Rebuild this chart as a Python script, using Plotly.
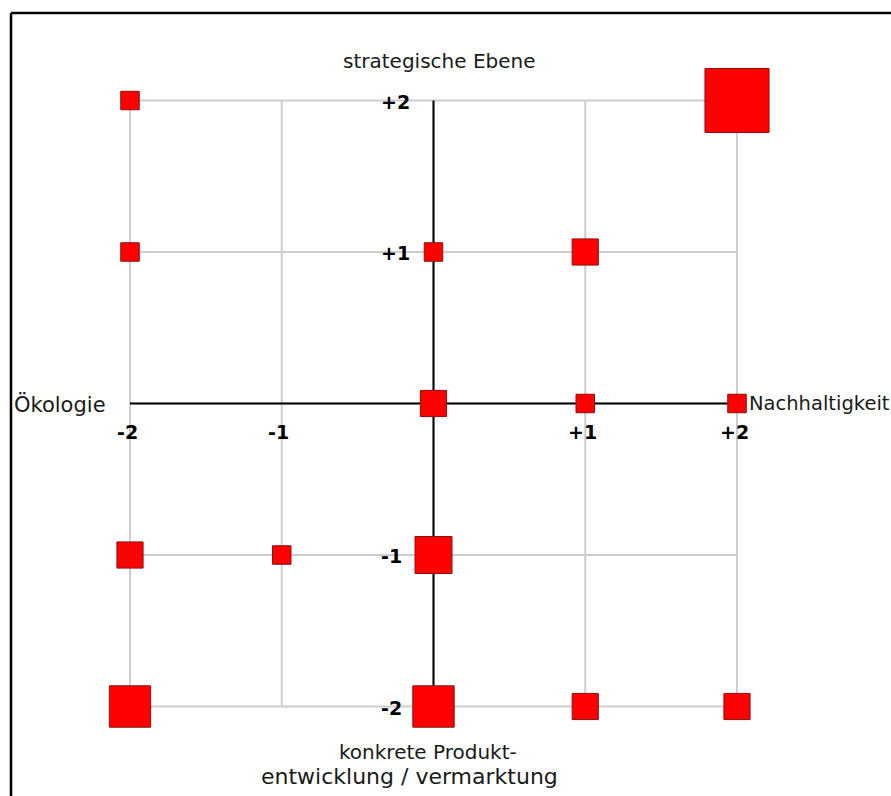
import math
import plotly.graph_objects as go

# ---- data ----
grid_vals = [-2, -1, 0, 1, 2]
x_tick_labels = ["-2", "-1", "", "+1", "+2"]
y_tick_labels = ["-2", "-1", "", "+1", "+2"]

pos_x = [-2, 2, -2, 0, 1, 0, 1, 2, -2, -1, 0, -2, 0, 1, 2]
pos_y = [2, 2, 1, 1, 1, 0, 0, 0, -1, -1, -1, -2, -2, -2, -2]
counts = [1, 12, 1, 1, 2, 2, 1, 1, 2, 1, 4, 5, 5, 2, 2]

title_top = "strategische Ebene"
title_left = "Ökologie"
title_right = "Nachhaltigkeit"
title_bottom_1 = "konkrete Produkt-"
title_bottom_2 = "entwicklung / vermarktung"

# ---- layout geometry (body margin removed via post_script) ----
W, H = 891, 796
PX_PER_UNIT_X = 151.75
PX_PER_UNIT_Y = 151.5
X0_PX = 433.5   # pixel of x=0
Y0_PX = 403.5   # pixel of y=0

x_range = [-X0_PX / PX_PER_UNIT_X, (W - X0_PX) / PX_PER_UNIT_X]
y_range = [-(H - Y0_PX) / PX_PER_UNIT_Y, Y0_PX / PX_PER_UNIT_Y]

def px(xp):
    return xp / W

def py(yp):
    return 1 - yp / H

FONT = "DejaVu Sans"
BASE = 18.5

fig = go.Figure()

shapes = []
lo, hi = min(grid_vals), max(grid_vals)
for v in grid_vals:
    shapes.append(dict(type="line", xref="x", yref="y", x0=v, x1=v, y0=lo, y1=hi,
                       line=dict(color="#cdcdcd", width=2), layer="below"))
    shapes.append(dict(type="line", xref="x", yref="y", x0=lo, x1=hi, y0=v, y1=v,
                       line=dict(color="#cdcdcd", width=2), layer="below"))
shapes.append(dict(type="line", xref="x", yref="y", x0=lo, x1=hi, y0=0, y1=0,
                   line=dict(color="black", width=2), layer="below"))
shapes.append(dict(type="line", xref="x", yref="y", x0=0, x1=0, y0=lo, y1=hi,
                   line=dict(color="black", width=2), layer="below"))
# frame (left and top edges)
shapes.append(dict(type="line", xref="paper", yref="paper", x0=px(11), x1=px(11),
                   y0=py(13), y1=py(H + 20), line=dict(color="black", width=2.5)))
shapes.append(dict(type="line", xref="paper", yref="paper", x0=px(11), x1=px(W + 20),
                   y0=py(13), y1=py(13), line=dict(color="black", width=2.5)))

fig.add_trace(go.Scatter(
    x=pos_x, y=pos_y, mode="markers",
    marker=dict(symbol="square", size=[BASE * math.sqrt(c) for c in counts],
                color="#ff0000", opacity=1, line=dict(color="#8b1010", width=1),
                sizemode="diameter"),
    hoverinfo="skip", showlegend=False,
))

annotations = []
for v, lab in zip(grid_vals, x_tick_labels):
    if lab:
        annotations.append(dict(x=v, y=0, xref="x", yref="y", text=f"<b>{lab}</b>",
                                showarrow=False, xanchor="center", yanchor="middle",
                                xshift=-3, yshift=-28,
                                font=dict(family=FONT, size=19, color="black")))
for v, lab in zip(grid_vals, y_tick_labels):
    if lab:
        annotations.append(dict(x=0, y=v, xref="x", yref="y", text=f"<b>{lab}</b>",
                                showarrow=False, xanchor="left", yanchor="middle",
                                xshift=-55, yshift=-1,
                                font=dict(family=FONT, size=19, color="black")))

def tf(size):
    return dict(family=FONT, size=size, color="#1a1a1a")

annotations += [
    dict(x=px(439), y=py(61), xref="paper", yref="paper", text=title_top, showarrow=False,
         xanchor="center", yanchor="middle", font=tf(20)),
    dict(x=px(12), y=py(404), xref="paper", yref="paper", text=title_left, showarrow=False,
         xanchor="left", yanchor="middle", font=tf(21)),
    dict(x=px(747), y=py(403), xref="paper", yref="paper", text=title_right, showarrow=False,
         xanchor="left", yanchor="middle", font=tf(19.5)),
    dict(x=px(428), y=py(752), xref="paper", yref="paper", text=title_bottom_1, showarrow=False,
         xanchor="center", yanchor="middle", font=tf(20)),
    dict(x=px(409), y=py(776), xref="paper", yref="paper", text=title_bottom_2, showarrow=False,
         xanchor="center", yanchor="middle", font=tf(22)),
]

fig.update_layout(
    width=W, height=H,
    margin=dict(l=0, r=0, t=0, b=0),
    paper_bgcolor="white", plot_bgcolor="white",
    xaxis=dict(range=x_range, visible=False, fixedrange=True),
    yaxis=dict(range=y_range, visible=False, fixedrange=True),
    shapes=shapes, annotations=annotations,
)

fig.write_html(
    "out.html",
    config={"displayModeBar": False},
    post_script="document.body.style.margin='0';document.body.style.overflow='hidden';",
)
